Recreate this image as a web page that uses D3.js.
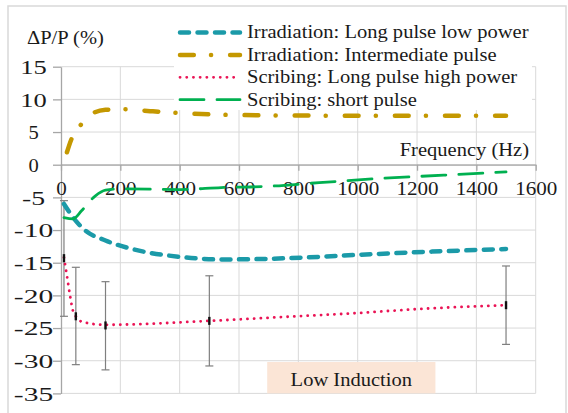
<!DOCTYPE html>
<html>
<head>
<meta charset="utf-8">
<title>Power loss change vs frequency</title>
<style>
    body { margin: 0; background: #fff; }
    svg text { font-family: "Liberation Serif", "Times New Roman", Tinos, "Noto Serif", "DejaVu Serif", "FreeSerif", "Nimbus Roman", serif !important; fill: #1a1a1a; }
    .grid line { stroke: #d9d9d9; stroke-width: 1; }
    .axis path, .axis line { stroke: #a6a6a6; stroke-width: 1.3; fill: none; }
    .axis text { font-size: 18px; }
</style>
</head>
<body>
<svg id="chart" width="568" height="413"></svg>
<script src="https://cdn.jsdelivr.net/npm/d3@7"></script>
<script>
// ---------- data ----------
var xTicks = [0, 200, 400, 600, 800, 1000, 1200, 1400, 1600];
var yTicks = [15, 10, 5, 0, -5, -10, -15, -20, -25, -30, -35];

// Irradiation: Long pulse low power
var irrLongF = [10, 50, 80, 150, 240, 400, 540, 700, 870, 1000, 1250, 1500];
var irrLongV = [-6.0, -8.6, -10.0, -11.6, -12.9, -14.1, -14.5, -14.4, -14.1, -13.8, -13.3, -12.9];

// Irradiation: Intermediate pulse
var irrInterF = [20, 35, 65, 100, 150, 210, 300, 400, 600, 1000, 1500];
var irrInterV = [1.9, 3.9, 6.0, 7.7, 8.4, 8.5, 8.2, 7.9, 7.6, 7.5, 7.5];

// Scribing: Long pulse high power
var scribLongF = [10, 20, 30, 40, 50, 75, 150, 500, 750, 1000, 1200, 1500];
var scribLongV = [-14.2, -17.0, -19.9, -22.3, -23.2, -24.1, -24.5, -23.9, -23.3, -22.7, -22.1, -21.5];

// error bars on the scribing long pulse series
var errF    = [10, 50, 150, 500, 1500];
var errMid  = [-14.3, -23.2, -24.6, -23.9, -21.5];
var errLow  = [-23.2, -30.6, -31.4, -30.8, -27.5];
var errHigh = [-5.5, -15.7, -17.9, -17.0, -15.5];

// Scribing: short pulse
var scribShortF = [10, 40, 70, 115, 150, 200, 400, 540, 700, 870, 1075, 1290, 1500];
var scribShortV = [-8.1, -8.3, -7.0, -4.8, -3.9, -3.7, -3.8, -3.5, -3.3, -2.75, -2.1, -1.6, -1.1];

var seriesNames = [
    "Irradiation: Long pulse low power",
    "Irradiation: Intermediate pulse",
    "Scribing: Long pulse high power",
    "Scribing: short pulse"
];

// ---------- styles ----------
var styles = [
    { color: "#1b9aa8", width: 4.5, dash: "9,8.5", cap: "round" },
    { color: "#c49800", width: 4.5, dash: "13.8,17.2,0.1,19", cap: "round" },
    { color: "#ea1455", width: 2.8, dash: "0.1,6.6", cap: "round" },
    { color: "#00b050", width: 2.8, dash: "24,13", cap: "round" }
];

var series = [
    { f: irrLongF, v: irrLongV },
    { f: irrInterF, v: irrInterV },
    { f: scribLongF, v: scribLongV },
    { f: scribShortF, v: scribShortV }
];

// ---------- layout ----------
var svg = d3.select("#chart");
var plot = { left: 61, right: 535.7, top: 66.7, bottom: 393.4 };

var x = d3.scaleLinear().domain([0, 1600]).range([plot.left, plot.right]);
var y = d3.scaleLinear().domain([-35, 15]).range([plot.bottom, plot.top]);

// stretch text horizontally (the figure's text is a bit wide)
function stretch(sel, k, extra) {
    sel.each(function () {
        var n = this.getComputedTextLength();
        var c = this.textContent.length;
        d3.select(this)
            .attr("textLength", n * k + (extra || 0) * (c - 1))
            .attr("lengthAdjust", "spacingAndGlyphs");
    });
}

// outer frame
svg.append("rect")
    .attr("x", 8).attr("y", 6).attr("width", 558).attr("height", 420)
    .attr("fill", "none").attr("stroke", "#d9d9d9").attr("stroke-width", 1.5);

// gridlines
var grid = svg.append("g").attr("class", "grid");
grid.selectAll(".h").data(yTicks).enter().append("line")
    .attr("x1", plot.left).attr("x2", plot.right)
    .attr("y1", d => y(d)).attr("y2", d => y(d));
grid.selectAll(".v").data(xTicks.slice(1)).enter().append("line")
    .attr("x1", d => x(d)).attr("x2", d => x(d))
    .attr("y1", plot.top).attr("y2", plot.bottom);

// annotation box
svg.append("rect")
    .attr("x", x(695)).attr("y", y(-30.2))
    .attr("width", x(1262) - x(695)).attr("height", y(-35) - y(-30.2))
    .attr("fill", "#fbe5d6");
var lowTxt = svg.append("text")
    .attr("x", (x(695) + x(1262)) / 2).attr("y", 386)
    .attr("text-anchor", "middle").attr("font-size", 18)
    .text("Low Induction");
stretch(lowTxt, 1.14);

// y axis
var yAxis = svg.append("g").attr("class", "axis")
    .attr("transform", "translate(" + plot.left + ",0)")
    .call(d3.axisLeft(y).tickValues(yTicks).tickSize(8).tickSizeOuter(0).tickFormat(d3.format("d")));
yAxis.attr("font-family", null);
yAxis.selectAll("text")
    .attr("x", 33.5 - plot.left).attr("dy", "0.38em")
    .attr("text-anchor", "middle")
    .text(d => d < 0 ? "-" + Math.abs(d) : d);
stretch(yAxis.selectAll("text"), 1.14, 6);

// x axis at y = 0
var xAxis = svg.append("g").attr("class", "axis")
    .attr("transform", "translate(0," + y(0) + ")")
    .call(d3.axisBottom(x).tickValues(xTicks).tickSize(6).tickSizeOuter(0).tickPadding(12).tickFormat(d3.format("d")));
xAxis.attr("font-family", null);
stretch(xAxis.selectAll("text"), 1.17);

// series lines
var line = d3.line()
    .x(d => x(d[0]))
    .y(d => y(d[1]))
    .curve(d3.curveMonotoneX);

// error bars (drawn under the curves)
var eb = svg.append("g");
errF.forEach(function (f, i) {
    eb.append("line")
        .attr("x1", x(f)).attr("x2", x(f))
        .attr("y1", y(errHigh[i])).attr("y2", y(errLow[i]))
        .attr("stroke", "#7f7f7f").attr("stroke-width", 1.2);
    [errHigh[i], errLow[i]].forEach(function (v) {
        eb.append("line")
            .attr("x1", x(f) - 4).attr("x2", x(f) + 4)
            .attr("y1", y(v)).attr("y2", y(v))
            .attr("stroke", "#7f7f7f").attr("stroke-width", 1.2);
    });
});

series.forEach(function (s, i) {
    var pts = s.f.map((f, j) => [f, s.v[j]]);
    svg.append("path")
        .attr("d", line(pts))
        .attr("fill", "none")
        .attr("stroke", styles[i].color)
        .attr("stroke-width", styles[i].width)
        .attr("stroke-dasharray", styles[i].dash)
        .attr("stroke-linecap", styles[i].cap);
});

// markers on error bar points
svg.append("g").selectAll("rect").data(errF).enter().append("rect")
    .attr("x", d => x(d) - 1.2)
    .attr("y", (d, i) => y(errMid[i]) - 4)
    .attr("width", 2.4).attr("height", 8)
    .attr("fill", "#111");

// axis titles
var yt = svg.append("text")
    .attr("x", 27).attr("y", 43.5).attr("font-size", 18)
    .text("ΔP/P (%)");
stretch(yt, 1.14);
var xt = svg.append("text")
    .attr("x", 529).attr("y", 156).attr("font-size", 18)
    .attr("text-anchor", "end")
    .text("Frequency (Hz)");
stretch(xt, 1.14);

// legend
var legend = svg.append("g");
legend.append("rect")
    .attr("x", 174).attr("y", 20).attr("width", 358).attr("height", 90)
    .attr("fill", "#fff");
seriesNames.forEach(function (name, i) {
    var ly = 32.5 + i * 22.4;
    legend.append("line")
        .attr("x1", 180).attr("x2", 240)
        .attr("y1", ly).attr("y2", ly)
        .attr("stroke", styles[i].color)
        .attr("stroke-width", styles[i].width)
        .attr("stroke-dasharray", styles[i].dash)
        .attr("stroke-linecap", styles[i].cap);
    var t = legend.append("text")
        .attr("x", 247).attr("y", ly + 5.8)
        .attr("font-size", 18)
        .text(name);
    stretch(t, 1.14);
});
</script>
</body>
</html>
